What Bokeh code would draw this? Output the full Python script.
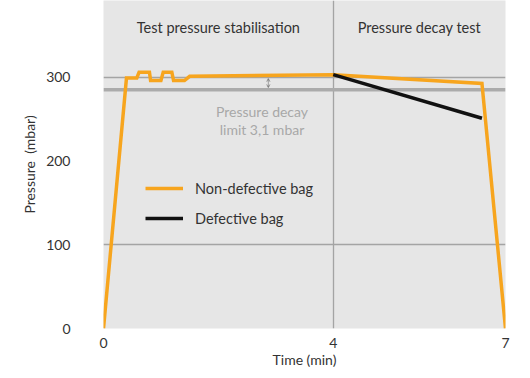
from bokeh.plotting import figure
from bokeh.models import ColumnDataSource, FixedTicker, Legend, LegendItem, Arrow, VeeHead, Span
from bokeh.core.properties import value
from bokeh.embed import file_html
from bokeh.resources import INLINE

# ---- data ----
time_ok = [0.0, 0.40, 0.58, 0.62, 0.80, 0.82, 1.00, 1.04, 1.19, 1.22, 1.41, 1.50, 4.0, 6.59, 7.0]
pressure_ok = [0, 299, 299, 306, 306, 296, 296, 306, 306, 296, 296, 301, 303, 292.5, 0]
time_defect = [4.0, 6.59]
pressure_defect = [303, 251]

x_ticks = [0, 4, 7]
y_ticks = [0, 100, 200, 300]
y_grid_levels = [0, 100, 300]
x_grid_levels = [0, 4]
limit_level = 285
phase_names = ["Test pressure stabilisation", "Pressure decay test"]
phase_centers = [2.0, 5.5]
phase_label_y = 359
note_lines = ["Pressure decay", "limit 3,1 mbar"]
note_x = [2.76, 2.76]
note_y = [259, 238]
arrow_x = 2.87

FONT = "Lato"
TEXT = "#333333"
ORANGE = "#f7a51e"
GRID = "#a4a4a4"

p = figure(width=522, height=370, x_range=(0, 7), y_range=(0, 391.5),
           output_backend="svg", toolbar_location=None,
           min_border_left=103, min_border_right=17, min_border_top=0, min_border_bottom=42)
p.background_fill_color = "#e6e6e6"
p.border_fill_color = "white"
p.outline_line_color = None

p.xgrid.ticker = FixedTicker(ticks=x_grid_levels)
p.ygrid.ticker = FixedTicker(ticks=y_grid_levels)
for g in (p.xgrid, p.ygrid):
    g.grid_line_color = GRID
    g.grid_line_width = 1.3

p.add_layout(Span(location=limit_level, dimension="width", line_color="#ababab",
                  line_width=3.5, level="underlay"))

for ax in (p.xaxis, p.yaxis):
    ax.axis_line_color = None
    ax.major_tick_line_color = None
    ax.minor_tick_line_color = None
    ax.major_label_text_font = FONT
    ax.major_label_text_font_size = "14px"
    ax.major_label_text_color = TEXT
    ax.axis_label_text_font = FONT
    ax.axis_label_text_font_size = "14px"
    ax.axis_label_text_font_style = "normal"
    ax.axis_label_text_color = TEXT

p.xaxis.ticker = FixedTicker(ticks=x_ticks)
p.yaxis.ticker = FixedTicker(ticks=y_ticks)
p.xaxis.axis_label = "Time (min)"
p.yaxis.axis_label = "Pressure\u00a0\u00a0(mbar)"
p.xaxis.major_label_standoff = 3
p.xaxis.axis_label_standoff = 0
p.yaxis.major_label_standoff = 27
p.yaxis.axis_label_standoff = 5

r_ok = p.line(time_ok, pressure_ok, line_color=ORANGE, line_width=3.5, line_join="miter")
r_def = p.line(time_defect, pressure_defect, line_color="#111111", line_width=3.5)

p.text(x=phase_centers, y=[phase_label_y] * 2, text=phase_names, text_font=value(FONT),
       text_font_size="14.5px", text_color=TEXT, text_align="center", text_baseline="middle")
p.text(x=note_x, y=note_y, text=note_lines, text_font=value(FONT),
       text_font_size="14px", text_color="#a8a8a8", text_align="center", text_baseline="middle")

p.add_layout(Arrow(x_start=arrow_x, y_start=298.5, x_end=arrow_x, y_end=287.5,
                   start=VeeHead(size=3, line_color="#a0a0a0", line_width=1),
                   end=VeeHead(size=3, line_color="#a0a0a0", line_width=1),
                   line_color="#a0a0a0", line_width=1))

legend = Legend(items=[LegendItem(label="Non-defective bag", renderers=[r_ok]),
                       LegendItem(label="Defective bag", renderers=[r_def])],
                location=(42, 100), background_fill_alpha=0, border_line_color=None,
                glyph_width=38, glyph_height=20, label_standoff=12, spacing=10, padding=10,
                margin=0, label_text_font=FONT, label_text_font_size="14.5px",
                label_text_color=TEXT)
p.add_layout(legend)

open("out.html", "w").write(file_html(p, INLINE))
